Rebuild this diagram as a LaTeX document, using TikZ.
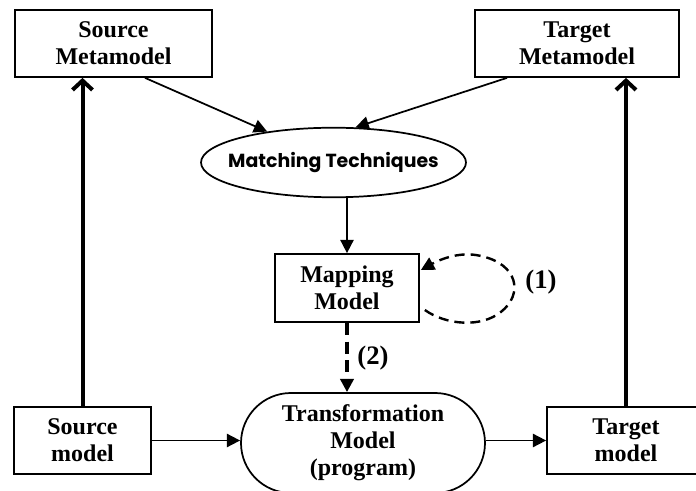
\documentclass[tikz,border=0pt]{standalone}
\usepackage{fontspec}
\setmainfont{Liberation Serif}
\newfontfamily\matchfont{Poppins}
\usepackage{tikz}
\usetikzlibrary{calc,arrows.meta,shapes.geometric,shapes.misc}
\definecolor{DiagInk}{RGB}{0,0,0}
\definecolor{DiagPaper}{RGB}{255,255,255}

\begin{document}
\begin{tikzpicture}[x=0.75pt,y=-0.75pt,
    modelbox/.style={draw=DiagInk,line width=1.3pt,fill=DiagPaper,align=center,
      inner sep=0pt,font=\fontsize{18}{20.25}\selectfont\bfseries},
    flow/.style={draw=DiagInk,line width=1.3pt,-{Triangle[length=10pt,width=10pt]}},
    conform/.style={draw=DiagInk,line width=3pt,-{Straight Barb[length=7pt,width=15pt]}},
    dashloop/.style={draw=DiagInk,line width=1.8pt,dash pattern=on 7.5pt off 4.5pt,
      -{Triangle[length=10pt,width=10pt]}},
    numlabel/.style={font=\fontsize{20}{24}\selectfont\bfseries,inner sep=0pt}]
  \useasboundingbox[fill=DiagPaper] (0,0) rectangle (696,491);

  % metamodels
  \node[modelbox,minimum width=147.75pt,minimum height=50.25pt] (srcmeta) at (113.5,43.5)
    {Source\\Metamodel};
  \node[modelbox,minimum width=153pt,minimum height=50.25pt] (tgtmeta) at (577,43.5)
    {Target\\Metamodel};

  % matching + mapping
  \node[draw=DiagInk,line width=1.3pt,ellipse,inner xsep=-9.5pt,inner ysep=10.8pt,
        minimum width=198.75pt,minimum height=51.75pt,
        font=\matchfont\fontsize{14.2}{16}\selectfont\bfseries]
    (match) at (333.5,162.5) {Matching Techniques};
  \node[modelbox,minimum width=108pt,minimum height=51pt] (map) at (347,288)
    {Mapping\\Model};

  % models
  \node[modelbox,minimum width=102.75pt,minimum height=50.25pt] (srcmod) at (82.5,440.5)
    {Source\\model};
  \node[modelbox,minimum width=118.5pt,minimum height=50.25pt] (tgtmod) at (626,440.5)
    {Target\\model};
  \node[modelbox,rounded rectangle,minimum width=183pt,minimum height=75pt] (trans)
    at (363,443) {Transformation\\Model\\(program)};

  \draw[flow] ($(srcmeta.south)+(31.5,0)$) -- (match.155);
  \draw[flow] ($(tgtmeta.south)+(-70,0)$) -- (match.58);
  \draw[flow] (map.north |- match.south) -- (map.north);

  % (1) refinement loop
  \draw[dashloop] ($(map.east)+(5,22)$)
    .. controls ($(map.east)+(26,37)$) and ($(map.east)+(61,40)$) .. ($(map.east)+(81,24)$)
    .. controls ($(map.east)+(104,6)$) and ($(map.east)+(98,-24)$) .. ($(map.east)+(61,-32)$)
    .. controls ($(map.east)+(41,-37)$) and ($(map.east)+(21,-29)$) .. ($(map.east)+(1,-18)$);
  \node[numlabel] (one) at (541,282) {(1)};

  % (2) generation
  \draw[dashloop,line width=2.4pt,dash pattern=on 9pt off 5pt] (map.south) -- (map.south |- trans.north);
  \node[numlabel] (two) at (373,358) {(2)};

  \draw[flow] (srcmod.east) -- (srcmod.east -| trans.west);
  \draw[flow] (trans.east |- tgtmod.west) -- (tgtmod.west);

  \draw[conform] (srcmod.north) -- (srcmod.north |- srcmeta.south);
  \draw[conform] (tgtmod.north) -- (tgtmod.north |- tgtmeta.south);
\end{tikzpicture}
\end{document}
